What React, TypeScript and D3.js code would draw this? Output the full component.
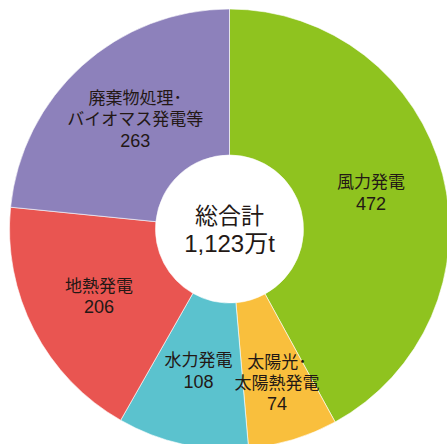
import React from "react";
import * as d3 from "d3";

const categories: string[][] = [
  ["風力発電"],
  ["太陽光･", "太陽熱発電"],
  ["水力発電"],
  ["地熱発電"],
  ["廃棄物処理･", "バイオマス発電等"],
];
const values: number[] = [472, 74, 108, 206, 263];
const colors: string[] = ["#8fc31f", "#f9bf3d", "#5bc2ce", "#e95551", "#8d81bb"];
const centerTitle = "総合計";
const centerValue = "1,123万t";

const W = 447;
const H = 444;
const cx = 229.5;
const cy = 229;
const R = 220;
const r0 = 74;

export default function App() {
  const pie = d3.pie<number>().sort(null).value((d) => d);
  const arcs = pie(values);
  const arc = d3.arc<d3.PieArcDatum<number>>().innerRadius(r0).outerRadius(R);
  const labelR = [146, 164, 145, 147, 148];
  const labelDx = [0, 0, 0, 0, 5];
  const labelDy = [0, -3, 0, 0, 0];
  const font = "'Liberation Sans', 'Noto Sans CJK JP', sans-serif";
  return (
    <svg
      width={W}
      height={H}
      style={{ position: "absolute", left: 0, top: 0, background: "#fff" }}
      fontFamily={font}
    >
      <g transform={`translate(${cx},${cy})`}>
        {arcs.map((a, i) => (
          <path key={i} d={arc(a) || ""} fill={colors[i]} stroke="#fff" strokeWidth={0.6} />
        ))}
        {arcs.map((a, i) => {
          const la = d3.arc<d3.PieArcDatum<number>>().innerRadius(labelR[i]).outerRadius(labelR[i]);
          const [cx0, ly] = la.centroid(a);
          const lx = cx0 + labelDx[i];
          const lines = [...categories[i], String(values[i])];
          const lh = 21;
          const y0 = ly - ((lines.length - 1) * lh) / 2 + labelDy[i];
          return (
            <text key={i} textAnchor="middle" fontSize={17} fill="#231815">
              {lines.map((t, j) => (
                <tspan key={j} x={lx} y={y0 + j * lh} dy="0.36em" fontSize={j === lines.length - 1 ? 18 : 17}>
                  {t}
                </tspan>
              ))}
            </text>
          );
        })}
        <text textAnchor="middle" fill="#231815">
          <tspan x={0} y={-13} dy="0.36em" fontSize={23}>{centerTitle}</tspan>
          <tspan x={0} y={14} dy="0.36em" fontSize={24}>{centerValue}</tspan>
        </text>
      </g>
    </svg>
  );
}
